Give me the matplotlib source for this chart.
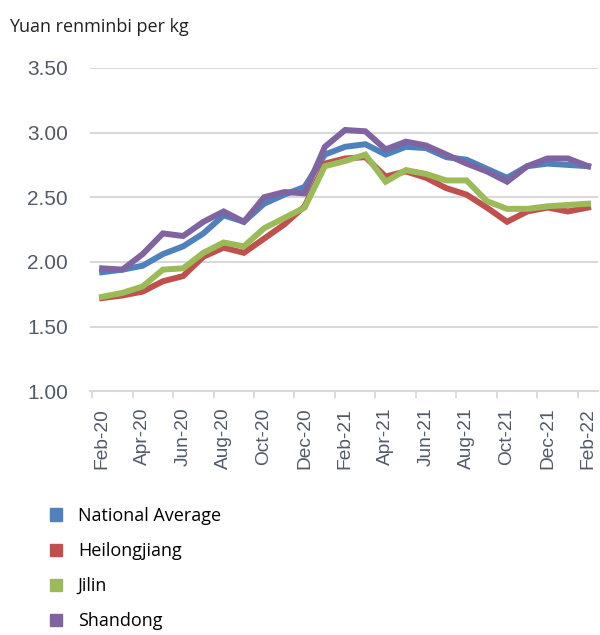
import matplotlib
matplotlib.use("Agg")
import matplotlib.pyplot as plt
from matplotlib.patches import Patch

# monthly prices, Feb-20 .. Feb-22
months = ["Feb-20", "Mar-20", "Apr-20", "May-20", "Jun-20", "Jul-20", "Aug-20", "Sep-20",
          "Oct-20", "Nov-20", "Dec-20", "Jan-21", "Feb-21", "Mar-21", "Apr-21", "May-21",
          "Jun-21", "Jul-21", "Aug-21", "Sep-21", "Oct-21", "Nov-21", "Dec-21", "Jan-22", "Feb-22"]

national = [1.92, 1.94, 1.97, 2.06, 2.12, 2.22, 2.36, 2.31, 2.45, 2.52, 2.58, 2.83, 2.89,
            2.91, 2.83, 2.89, 2.88, 2.81, 2.79, 2.72, 2.65, 2.74, 2.76, 2.75, 2.74]
heilongjiang = [1.72, 1.74, 1.77, 1.85, 1.89, 2.04, 2.11, 2.07, 2.18, 2.29, 2.43, 2.76, 2.80,
                2.81, 2.66, 2.70, 2.65, 2.57, 2.52, 2.42, 2.31, 2.39, 2.42, 2.39, 2.42]
jilin = [1.73, 1.76, 1.81, 1.94, 1.95, 2.07, 2.15, 2.12, 2.26, 2.34, 2.42, 2.74, 2.78,
         2.83, 2.62, 2.71, 2.68, 2.63, 2.63, 2.47, 2.41, 2.41, 2.43, 2.44, 2.45]
shandong = [1.95, 1.94, 2.06, 2.22, 2.20, 2.31, 2.39, 2.31, 2.50, 2.54, 2.53, 2.89, 3.02,
            3.01, 2.87, 2.93, 2.90, 2.83, 2.76, 2.70, 2.62, 2.74, 2.80, 2.80, 2.74]

series = [
    ("National Average", national, "#4F81BD"),
    ("Heilongjiang", heilongjiang, "#C0504D"),
    ("Jilin", jilin, "#9BBB59"),
    ("Shandong", shandong, "#8064A2"),
]

fig = plt.figure(figsize=(6, 6.35), dpi=100)
ax = fig.add_axes([0.15, 0.384, 0.847, 0.509])

x = list(range(len(months)))
for name, vals, color in series:
    ax.plot(x, vals, color=color, linewidth=4.3, solid_joinstyle="miter", label=name)

yticks = [1.0, 1.5, 2.0, 2.5, 3.0, 3.5]
ax.set_ylim(1.0, 3.5)
ax.set_yticks(yticks)
ax.set_yticklabels([f"{v:.2f}" for v in yticks],
                   fontsize=15, color="#505a6a", family="Liberation Sans")
ax.tick_params(axis="y", length=0, pad=16)
ax.grid(axis="y", color="#D9D9D9", linewidth=1.5)
ax.set_axisbelow(True)

ax.set_xlim(-0.6, 24.5)
ax.set_xticks(x[::2])
ax.set_xticklabels(months[::2], rotation=90, fontsize=13.8, color="#505a6a",
                   family="Liberation Sans")
ax.set_xticks([i - 0.5 for i in range(0, 25, 2)], minor=True)
ax.tick_params(axis="x", which="major", length=0, pad=12)
ax.tick_params(axis="x", which="minor", length=5, color="#D9D9D9", width=1.3)

for side in ["top", "right", "left"]:
    ax.spines[side].set_visible(False)
ax.spines["bottom"].set_color("#D9D9D9")
ax.spines["bottom"].set_linewidth(1.5)

fig.text(0.015, 0.958, "Yuan renminbi per kg", fontsize=13, color="#222222",
         family="Open Sans", va="center")

handles = [Patch(color=c, label=n) for n, _, c in series]
fig.legend(handles=handles, loc="upper left", bbox_to_anchor=(0.068, 0.216),
           frameon=False, handlelength=0.65, handleheight=0.65, handletextpad=0.9,
           labelspacing=0.95, borderpad=0, prop={"family": "Open Sans", "size": 13})

fig.savefig("out.png", dpi=100)
